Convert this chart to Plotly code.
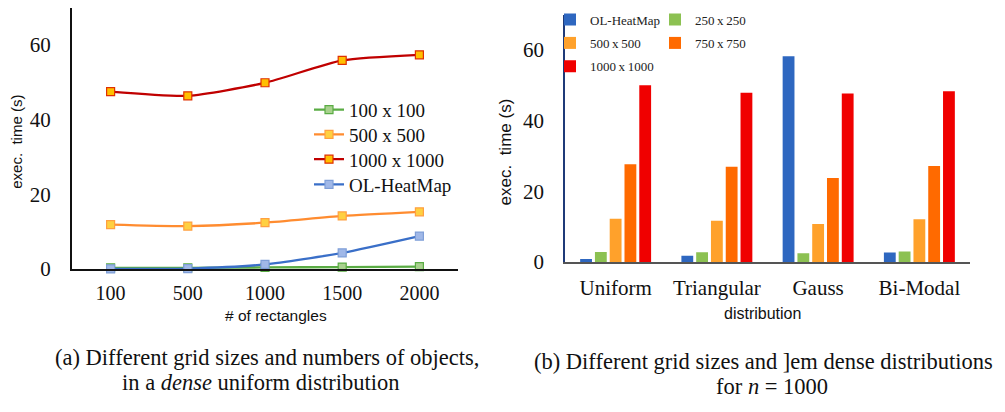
import plotly.graph_objects as go

# ---- data: left chart (dense uniform distribution) ----
n_rects = ["100", "500", "1000", "1500", "2000"]
grid_100 = [0.3, 0.3, 0.4, 0.5, 0.6]
grid_500 = [11.9, 11.5, 12.4, 14.2, 15.3]
grid_1000 = [47.5, 46.4, 49.9, 55.9, 57.4]
ol_heatmap_a = [0.0, 0.1, 1.2, 4.3, 8.8]

# ---- data: right chart (n = 1000) ----
distributions = ["Uniform", "Triangular", "Gauss", "Bi-Modal"]
ol_heatmap_b = [0.9, 1.8, 58.2, 2.7]
grid_250_b = [2.9, 2.8, 2.5, 3.0]
grid_500_b = [12.3, 11.7, 10.8, 12.1]
grid_750_b = [27.7, 27.0, 23.8, 27.2]
grid_1000_b = [50.0, 47.9, 47.7, 48.3]

W, H = 1005, 412
SERIF = "Liberation Serif"
SANS = "Liberation Sans"
TS = "\u2009"  # thin space

def px_x(p):
    return p / W

def px_y(p):
    return 1 - p / H

fig = go.Figure()

left_series = [
    ("100 x 100", grid_100, "#5aac44", "#a9d18e", "#5aac44", "legend"),
    ("500 x 500", grid_500, "#ff8c30", "#ffd040", "#ffa040", "legend5"),
    ("1000 x 1000", grid_1000, "#c00000", "#ffc000", "#e03000", "legend6"),
    ("OL-HeatMap", ol_heatmap_a, "#3a6fc8", "#a0b8e8", "#7f9fd8", "legend7"),
]
for name, vals, lc, mfill, mline, lg in left_series:
    fig.add_trace(go.Scatter(
        x=n_rects, y=vals, name=name, mode="lines+markers",
        line=dict(color=lc, width=2.3, shape="spline", smoothing=0.6),
        marker=dict(symbol="square", size=8, color=mfill, line=dict(color=mline, width=1.2)),
        cliponaxis=False, xaxis="x", yaxis="y", legend=lg,
    ))

right_series = [
    ("OL-HeatMap", ol_heatmap_b, "#2e67c0", "legend2"),
    (f"250{TS}x{TS}250", grid_250_b, "#8cc152", "legend2"),
    (f"500{TS}x{TS}500", grid_500_b, "#ffa12b", "legend3"),
    (f"750{TS}x{TS}750", grid_750_b, "#ff6a00", "legend3"),
    (f"1000{TS}x{TS}1000", grid_1000_b, "#f00000", "legend4"),
]
for name, vals, col, lg in right_series:
    fig.add_trace(go.Bar(
        x=distributions, y=vals, name=name, marker=dict(color=col, line=dict(width=0)),
        xaxis="x2", yaxis="y2", legend=lg,
    ))

common_leg = dict(bgcolor="rgba(0,0,0,0)", borderwidth=0, xanchor="left", yanchor="top")
left_leg = dict(orientation="v", font=dict(family=SERIF, size=19, color="#111"), **common_leg)
right_leg = dict(orientation="h", entrywidth=60,
                 font=dict(family=SERIF, size=13, color="#222"), **common_leg)
LLX = px_x(309)
RLX = px_x(550)

fig.update_layout(
    width=W, height=H,
    margin=dict(l=0, r=0, t=0, b=0),
    paper_bgcolor="white", plot_bgcolor="white",
    barmode="group", bargap=0.27, bargroupgap=0.2,
    showlegend=True,
    legend=dict(x=LLX, y=px_y(93.5), **left_leg),
    legend5=dict(x=LLX, y=px_y(119), **left_leg),
    legend6=dict(x=LLX, y=px_y(144.5), **left_leg),
    legend7=dict(x=LLX, y=px_y(170.5), **left_leg),
    legend2=dict(x=RLX, y=px_y(4.8), **right_leg),
    legend3=dict(x=RLX, y=px_y(28.8), **right_leg),
    legend4=dict(x=RLX, y=px_y(52.8), **right_leg),
    xaxis=dict(domain=[px_x(72), px_x(458)], anchor="y", type="category",
               range=[-0.5, 4.5], showline=True, linecolor="#111", linewidth=2,
               showgrid=False, zeroline=False, ticks="outside", ticklen=5,
               tickcolor="rgba(0,0,0,0)",
               tickfont=dict(family=SERIF, size=20, color="#111")),
    yaxis=dict(domain=[px_y(277), px_y(8)], anchor="x", range=[0, 70],
               tickvals=[0, 20, 40, 60], showline=True, linecolor="#111",
               linewidth=2, showgrid=False, zeroline=False, ticks="outside",
               ticklen=15, tickcolor="rgba(0,0,0,0)",
               tickfont=dict(family=SERIF, size=21, color="#111")),
    xaxis2=dict(domain=[px_x(565), px_x(970)], anchor="y2", type="category",
                range=[-0.5, 3.5], showline=True, linecolor="#555", linewidth=2,
                showgrid=False, zeroline=False, ticks="outside", ticklen=6,
                tickcolor="rgba(0,0,0,0)",
                tickfont=dict(family=SERIF, size=21, color="#111")),
    yaxis2=dict(domain=[px_y(270), px_y(15)], anchor="x2", range=[0, 70],
                tickvals=[0, 20, 40, 60], showline=True, linecolor="#1f3a78",
                linewidth=1.5, showgrid=False, zeroline=False, ticks="outside",
                ticklen=15, tickcolor="rgba(0,0,0,0)",
                tickfont=dict(family=SERIF, size=21, color="#111")),
)

annotations = [
    dict(text="exec.  time (s)", x=px_x(17), y=px_y(146), textangle=-90,
         font=dict(family=SANS, size=15, color="#111")),
    dict(text="# of rectangles", x=px_x(276), y=px_y(325),
         font=dict(family=SANS, size=15.5, color="#111")),
    dict(text="exec.  time (s)", x=px_x(505), y=px_y(157), textangle=-90,
         font=dict(family=SANS, size=17, color="#111")),
    dict(text="distribution", x=px_x(762), y=px_y(323),
         font=dict(family=SANS, size=16, color="#111")),
    dict(text="(a) Different grid sizes and numbers of objects,", x=px_x(267), y=px_y(368),
         font=dict(family=SERIF, size=22.5, color="#111")),
    dict(text="in a <i>dense</i> uniform distribution", x=px_x(260), y=px_y(394),
         font=dict(family=SERIF, size=22.5, color="#111")),
    dict(text="(b) Different grid sizes and ]em dense distributions", x=px_x(763), y=px_y(372),
         font=dict(family=SERIF, size=22.5, color="#111")),
    dict(text="for <i>n</i> = 1000", x=px_x(772), y=px_y(398),
         font=dict(family=SERIF, size=22.5, color="#111")),
]
for a in annotations:
    fig.add_annotation(xref="paper", yref="paper", showarrow=False,
                       xanchor="center", yanchor="middle", **a)

fig.write_html("out.html")
